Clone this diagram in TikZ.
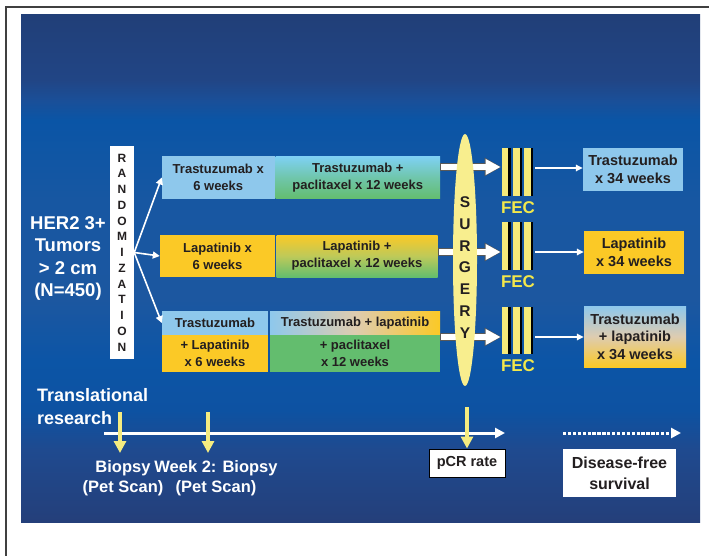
\documentclass[tikz,border=0pt]{standalone}
\usepackage{fontspec}
\setmainfont{Liberation Sans}
\usetikzlibrary{arrows.meta,shapes.geometric,calc}
\definecolor{bgA}{RGB}{33,63,120}
\definecolor{bgA2}{RGB}{33,69,133}
\definecolor{bgB}{RGB}{26,79,152}
\definecolor{bgC}{RGB}{10,85,166}
\definecolor{bgC2}{RGB}{23,87,162}
\definecolor{bgD}{RGB}{28,87,160}
\definecolor{bgD2}{RGB}{12,85,166}
\definecolor{bgE}{RGB}{13,82,162}
\definecolor{bgF}{RGB}{31,74,143}
\definecolor{bgG}{RGB}{36,63,122}
\definecolor{lblue}{RGB}{142,200,236}
\definecolor{cyanb}{RGB}{126,208,242}
\definecolor{byell}{RGB}{251,201,38}
\definecolor{bgreen}{RGB}{99,189,110}
\definecolor{txt}{RGB}{35,31,32}
\definecolor{surgy}{RGB}{248,238,142}
\definecolor{fecy}{RGB}{246,234,122}
\definecolor{fect}{RGB}{243,232,75}
\definecolor{arry}{RGB}{245,236,128}
\definecolor{beige}{RGB}{222,204,176}
\pgfdeclareverticalshading{bgshade}{100bp}{color(0bp)=(bgG); color(25bp)=(bgG); color(32.1bp)=(bgF); color(36bp)=(bgE); color(41bp)=(bgD2); color(46.9bp)=(bgD); color(56.8bp)=(bgC2); color(64.6bp)=(bgC); color(66.6bp)=(bgB); color(68.6bp)=(bgA2); color(75bp)=(bgA); color(100bp)=(bgA)}
\begin{document}
\begin{tikzpicture}[x=1pt,y=-1pt,
  bx/.style={inner sep=0pt, align=center, text=txt, font=\fontsize{13}{17}\selectfont\bfseries},
  rbx/.style={inner sep=0pt, align=center, text=txt, font=\fontsize{14.5}{17.5}\selectfont\bfseries},
  wtxt/.style={inner sep=0pt, align=center, text=white, font=\fontsize{18.5}{22.3}\selectfont\bfseries},
  btxt/.style={inner sep=0pt, align=center, text=white, font=\fontsize{16.5}{20}\selectfont\bfseries},
  fecgrp/.style={inner sep=0pt, minimum width=31.6pt, minimum height=#1,
    path picture={
      \foreach \xx in {0,11.6,22.6}{
        \fill[black] ([xshift=\xx pt]path picture bounding box.north west) rectangle ++(8.8pt,-#1);
        \fill[fecy] ([xshift=\xx pt]path picture bounding box.north west) rectangle ++(6.6pt,-#1);
      }}},
  fectxt/.style={inner sep=0pt, text=fect, font=\fontsize{17}{17}\selectfont\bfseries},
  fanarrow/.style={white, line width=1.6pt, -{Triangle[width=7pt,length=7pt]}},
  thinarrow/.style={white, line width=1.5pt, -{Triangle[width=6.5pt,length=7pt]}},
  bigarrowout/.style={black!65, line width=7.6pt, -{Triangle[width=17.5pt,length=17pt]}},
  bigarrowin/.style={white, line width=6pt, -{Triangle[width=15pt,length=15pt]}},
  yarrow/.style={arry, line width=4.5pt, -{Triangle[width=12pt,length=12pt]}},
  tlarrow/.style={white, line width=3pt, -{Triangle[width=10pt,length=10pt]}},
  dotarrow/.style={white, line width=3pt, dash pattern=on 3.3pt off 1.6pt, -{Triangle[width=10pt,length=10pt]}}
]
\useasboundingbox (0,0) rectangle (709,556);
\fill[white] (0,0) rectangle (709,556);
% frame
\draw[line width=2pt, black!75] (6,556) -- (6,7) -- (709,7);
% background panel
\fill[shading=bgshade] (21,15) rectangle (700,522);

% left text
\node[wtxt] (her) at (68,258.5) {HER2 3+\\Tumors\\{>} 2 cm\\(N=450)};

% randomization
\node[fill=white, inner sep=0pt, minimum width=24pt, minimum height=213pt, align=center, text=txt,
  font=\fontsize{12}{15.75}\selectfont\bfseries] (rand) at (122,252.5)
  {R\\A\\N\\D\\O\\M\\I\\Z\\A\\T\\I\\O\\N};

% row 1
\node[bx, fill=lblue, minimum width=112.5pt, minimum height=43pt] (a1) at (218.25,177.5) {Trastuzumab x\\6 weeks};
\node[bx, top color=cyanb, bottom color=bgreen, middle color=cyanb!45!bgreen, minimum width=164.5pt, minimum height=42pt] (b1) at (357.75,178) {Trastuzumab +\\paclitaxel x 12 weeks};
% row 2
\node[bx, fill=byell, minimum width=115pt, minimum height=42pt] (a2) at (217.5,256) {Lapatinib x\\6 weeks};
\node[bx, top color=byell, bottom color=bgreen, middle color=byell!55!bgreen!90!white, minimum width=161pt, minimum height=42pt] (b2) at (357,256) {Lapatinib +\\paclitaxel x 12 weeks};
% row 3
\node[bx, fill=lblue, minimum width=106pt, minimum height=24pt] (a3t) at (215,323) {Trastuzumab};
\node[bx, fill=byell, minimum width=106pt, minimum height=37pt] (a3b) at (215,353.5) {+ Lapatinib\\x 6 weeks};
\node[bx, left color=lblue, right color=byell, middle color=beige, minimum width=170pt, minimum height=24pt] (b3t) at (355,323) {Trastuzumab + lapatinib};
\node[bx, fill=bgreen, minimum width=170pt, minimum height=37pt] (b3b) at (355,353.5) {+ paclitaxel\\x 12 weeks};

% fan arrows
\draw[fanarrow] (rand.east) -- (a1.west);
\draw[fanarrow] (rand.east) -- (a2.west);
\draw[fanarrow] (rand.east) -- (a3t.west);

% FEC groups
\node[fecgrp=48pt] (fec1) at (517.5,172) {};
\node[fecgrp=48pt] (fec2) at (517.5,246) {};
\node[fecgrp=47pt] (fec3) at (517.5,330.5) {};
\node[fectxt] (fl1) at (518,208) {FEC};
\node[fectxt] (fl2) at (518,282) {FEC};
\node[fectxt] (fl3) at (518,366) {FEC};

% big arrows to FEC (behind the surgery ellipse)
\coordinate (s1) at (440,167);
\coordinate (s2) at (438,252);
\coordinate (s3) at (440,337);
\foreach \s/\f in {s1/fec1,s2/fec2,s3/fec3}{
  \draw[bigarrowout] (\s) -- (\s -| \f.west);
  \draw[bigarrowin] ([xshift=0.8pt]\s) -- ([xshift=-0.9pt]\s -| \f.west);
}

% surgery
\node[ellipse, fill=surgy, inner sep=0pt, minimum width=24pt, minimum height=252pt] (surg) at (465,260) {};
\node[inner sep=0pt, align=center, text=txt, font=\fontsize{15.5}{21.8}\selectfont\bfseries] (surgtxt) at (465,267.5) {S\\U\\R\\G\\E\\R\\Y};

% right boxes
\node[rbx, fill=lblue, minimum width=100pt, minimum height=43pt] (f1) at (633,169.5) {Trastuzumab\\x 34 weeks};
\node[rbx, fill=byell, minimum width=100pt, minimum height=43pt] (f2) at (634,252.5) {Lapatinib\\x 34 weeks};
\node[rbx, top color=lblue, bottom color=byell, middle color=beige, minimum width=102pt, minimum height=61pt] (f3) at (635,336.5) {Trastuzumab\\+ lapatinib\\x 34 weeks};

\coordinate (t1) at (535,168);
\coordinate (t2) at (535,252);
\coordinate (t3) at (535,337);
\draw[thinarrow] (t1) -- (t1 -| f1.west);
\draw[thinarrow] (t2) -- (t2 -| f2.west);
\draw[thinarrow] (t3) -- (t3 -| f3.west);

% bottom: translational research
\node[inner sep=0pt, align=left, text=white, font=\fontsize{18}{23}\selectfont\bfseries, anchor=west] (trans) at (37,406.5) {Translational\\research};

\coordinate (tl0) at (104,433);
\coordinate (tl1) at (505,433);
\draw[tlarrow] (tl0) -- (tl1);

\coordinate (dl0) at (563,433);
\coordinate (dl1) at (681,433);
\draw[dotarrow] (dl0) -- (dl1);

\node[btxt] (bio1) at (123,478.5) {Biopsy\\(Pet Scan)};
\node[btxt] (bio2) at (216,478.5) {Week 2: Biopsy\\(Pet Scan)};

\coordinate (y1s) at (120,412);
\coordinate (y1e) at (120,453);
\coordinate (y2s) at (208,412);
\coordinate (y2e) at (208,453);
\draw[yarrow] (y1s) -- (y1e);
\draw[yarrow] (y2s) -- (y2e);

\node[draw=black, line width=1pt, fill=white, inner sep=0pt, minimum width=76pt, minimum height=28pt, text=txt, font=\fontsize{14.5}{17}\selectfont\bfseries] (pcr) at (467,463) {pCR rate};
\coordinate (y3s) at (467,407);
\draw[yarrow] (y3s) -- (pcr.north);

\node[fill=white, inner sep=0pt, minimum width=113pt, minimum height=48pt, align=center, text=txt, font=\fontsize{16}{21}\selectfont\bfseries] (dfs) at (619.5,473) {Disease-free\\survival};
\end{tikzpicture}
\end{document}
